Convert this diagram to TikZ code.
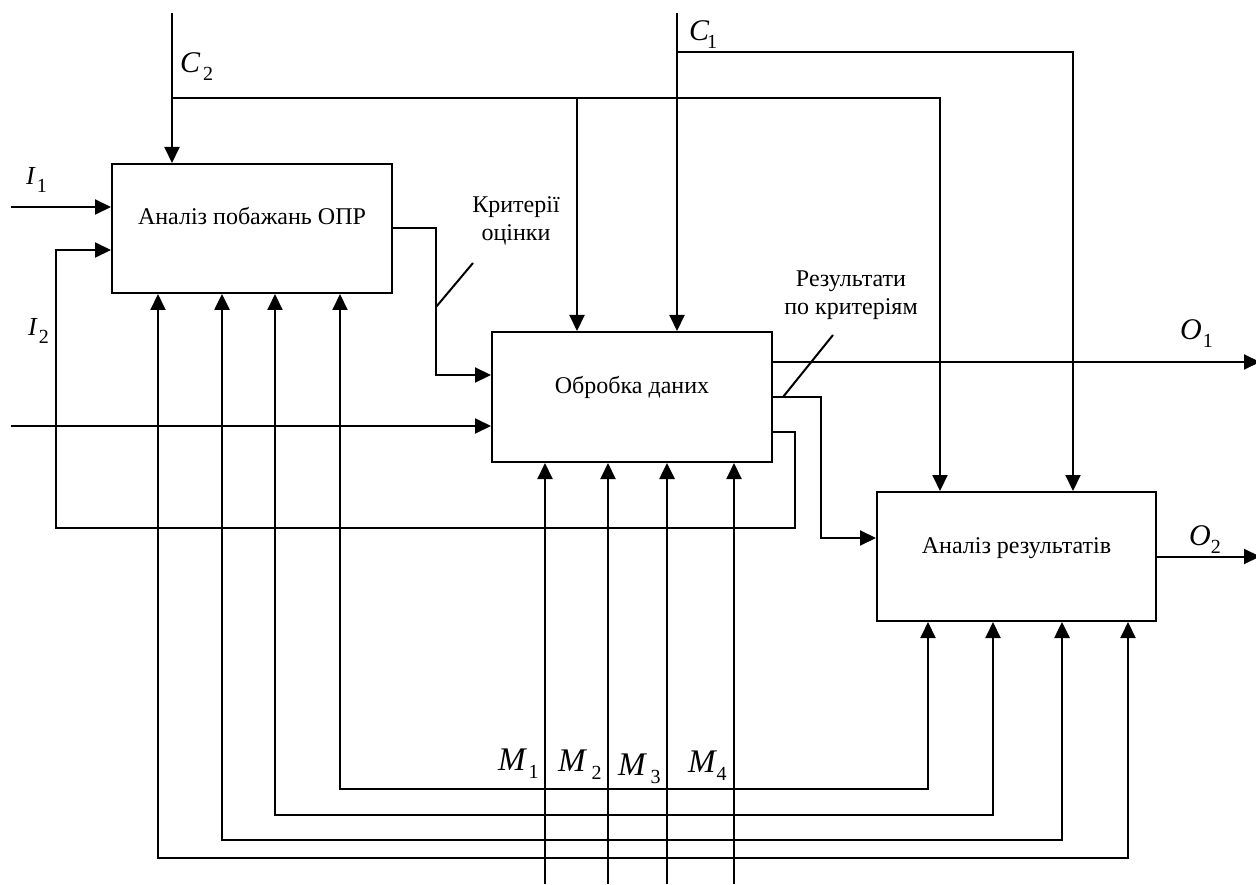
\documentclass[tikz,border=0pt]{standalone}
\usepackage{fontspec}
\setmainfont{Liberation Serif}
\usetikzlibrary{arrows.meta}
\newcommand{\lbl}[4]{{\fontsize{#1}{#1}\selectfont\itshape #2}\kern#4pt\raisebox{-8pt}{\fontsize{20}{20}\selectfont #3}}
\begin{document}
\begin{tikzpicture}[x=1pt,y=-1pt,
  every node/.style={inner sep=0pt},
  ln/.style={line width=2pt},
  thk/.style={line width=2.6pt},
  arr/.style={ln,-{Triangle[length=16pt,width=15pt]}},
  arr2/.style={ln,{Triangle[length=16pt,width=15pt]}-{Triangle[length=16pt,width=15pt]}},
  box/.style={draw,line width=2pt,rectangle,text height=16pt,text depth=23pt,
    font=\fontsize{24}{28}\selectfont},
  txt/.style={font=\fontsize{24}{28}\selectfont,align=center},
  lab/.style={anchor=base west}]
\useasboundingbox (0,0) rectangle (1256,885);
% boxes
\node[box,minimum width=280pt,minimum height=129pt] (A) at (252,228.5) {Аналіз побажань ОПР};
\node[box,minimum width=280pt,minimum height=130pt] (B) at (632,397) {Обробка даних};
\node[box,minimum width=279pt,minimum height=129pt] (C) at (1016.5,556.5) {Аналіз результатів};
% coordinates
\coordinate (c2top) at (172,13);
\coordinate (c1top) at (677,13);
\coordinate (c2j) at (172,98);
\coordinate (c1j) at (677,52);
\coordinate (xb1) at (577,0);
\coordinate (xc1) at (940,0);
\coordinate (xc2) at (1073,0);
\coordinate (i1) at (11,207);
\coordinate (i2) at (11,426);
\coordinate (kb) at (436,375);
\coordinate (fb1) at (795,432);
\coordinate (fb2) at (56,528);
\coordinate (fa) at (56,250);
\coordinate (o1) at (1260,362);
\coordinate (o2) at (1260,556.5);
\coordinate (rz) at (821,538);
\coordinate (m1) at (545,884);
\coordinate (m2) at (608,884);
\coordinate (m3) at (667,884);
\coordinate (m4) at (734,884);
\coordinate (l1) at (340,789);
\coordinate (l1c) at (928,789);
\coordinate (l2) at (275,815);
\coordinate (l2c) at (993,815);
\coordinate (l3) at (222,840);
\coordinate (l3c) at (1062,840);
\coordinate (l4) at (158,858);
\coordinate (l4c) at (1128,858);
\coordinate (s1a) at (436,307);
\coordinate (s1b) at (473,263);
\coordinate (s2a) at (783,397);
\coordinate (s2b) at (833,335);
% controls
\draw[arr] (c2top) -- (c2top |- A.north);
\draw[arr] (c2j) -| (xc1 |- C.north);
\draw[arr] (xb1 |- c2j) -- (xb1 |- B.north);
\draw[arr] (c1top) -- (c1top |- B.north);
\draw[arr] (c1j) -| (xc2 |- C.north);
% inputs
\draw[arr] (i1) -- (i1 -| A.west);
\draw[arr] (i2) -- (i2 -| B.west);
\draw[arr] (A.east) -| (kb) -- (kb -| B.west);
\draw[arr] (fb1 -| B.east) -- (fb1) -- (fb1 |- fb2) -- (fb2) -- (fa) -- (fa -| A.west);
% outputs
\draw[arr] (o1 -| B.east) -- (o1);
\draw[arr] (B.east) -| (rz) -- (rz -| C.west);
\draw[arr] (C.east) -- (o2);
% mechanisms
\draw[arr] (m1) -- (m1 |- B.south);
\draw[arr] (m2) -- (m2 |- B.south);
\draw[arr,thk] (m3) -- (m3 |- B.south);
\draw[arr] (m4) -- (m4 |- B.south);
\draw[arr2] (l1 |- A.south) -- (l1) -- (l1c) -- (l1c |- C.south);
\draw[arr2] (l2 |- A.south) -- (l2) -- (l2c) -- (l2c |- C.south);
\draw[arr2,thk] (l3 |- A.south) -- (l3) -- (l3c) -- (l3c |- C.south);
\draw[arr2] (l4 |- A.south) -- (l4) -- (l4c) -- (l4c |- C.south);
% label pointers
\draw[ln] (s1a) -- (s1b);
\draw[ln] (s2a) -- (s2b);
% texts
\node[txt,anchor=base] (krit) at (516,241) {Критерії\\оцінки};
\node[txt,anchor=base] (rez) at (851,315) {Результати\\по критеріям};
\node[lab] (tc2) at (180,73) {\lbl{30}{C}{2}{3}};
\node[lab] (tc1) at (689,41) {\lbl{30}{C}{1}{-2}};
\node[lab] (ti1) at (26,185) {\lbl{26}{I}{1}{2}};
\node[lab] (ti2) at (28,336) {\lbl{26}{I}{2}{2}};
\node[lab] (to1) at (1180,340) {\lbl{30}{O}{1}{1}};
\node[lab] (to2) at (1189,545) {\lbl{30}{O}{2}{0}};
\node[lab] (tm1) at (498,770) {\lbl{33}{M}{1}{3}};
\node[lab] (tm2) at (558,771) {\lbl{33}{M}{2}{6}};
\node[lab] (tm3) at (618,775) {\lbl{33}{M}{3}{5}};
\node[lab] (tm4) at (688,772) {\lbl{33}{M}{4}{1}};
\end{tikzpicture}
\end{document}
